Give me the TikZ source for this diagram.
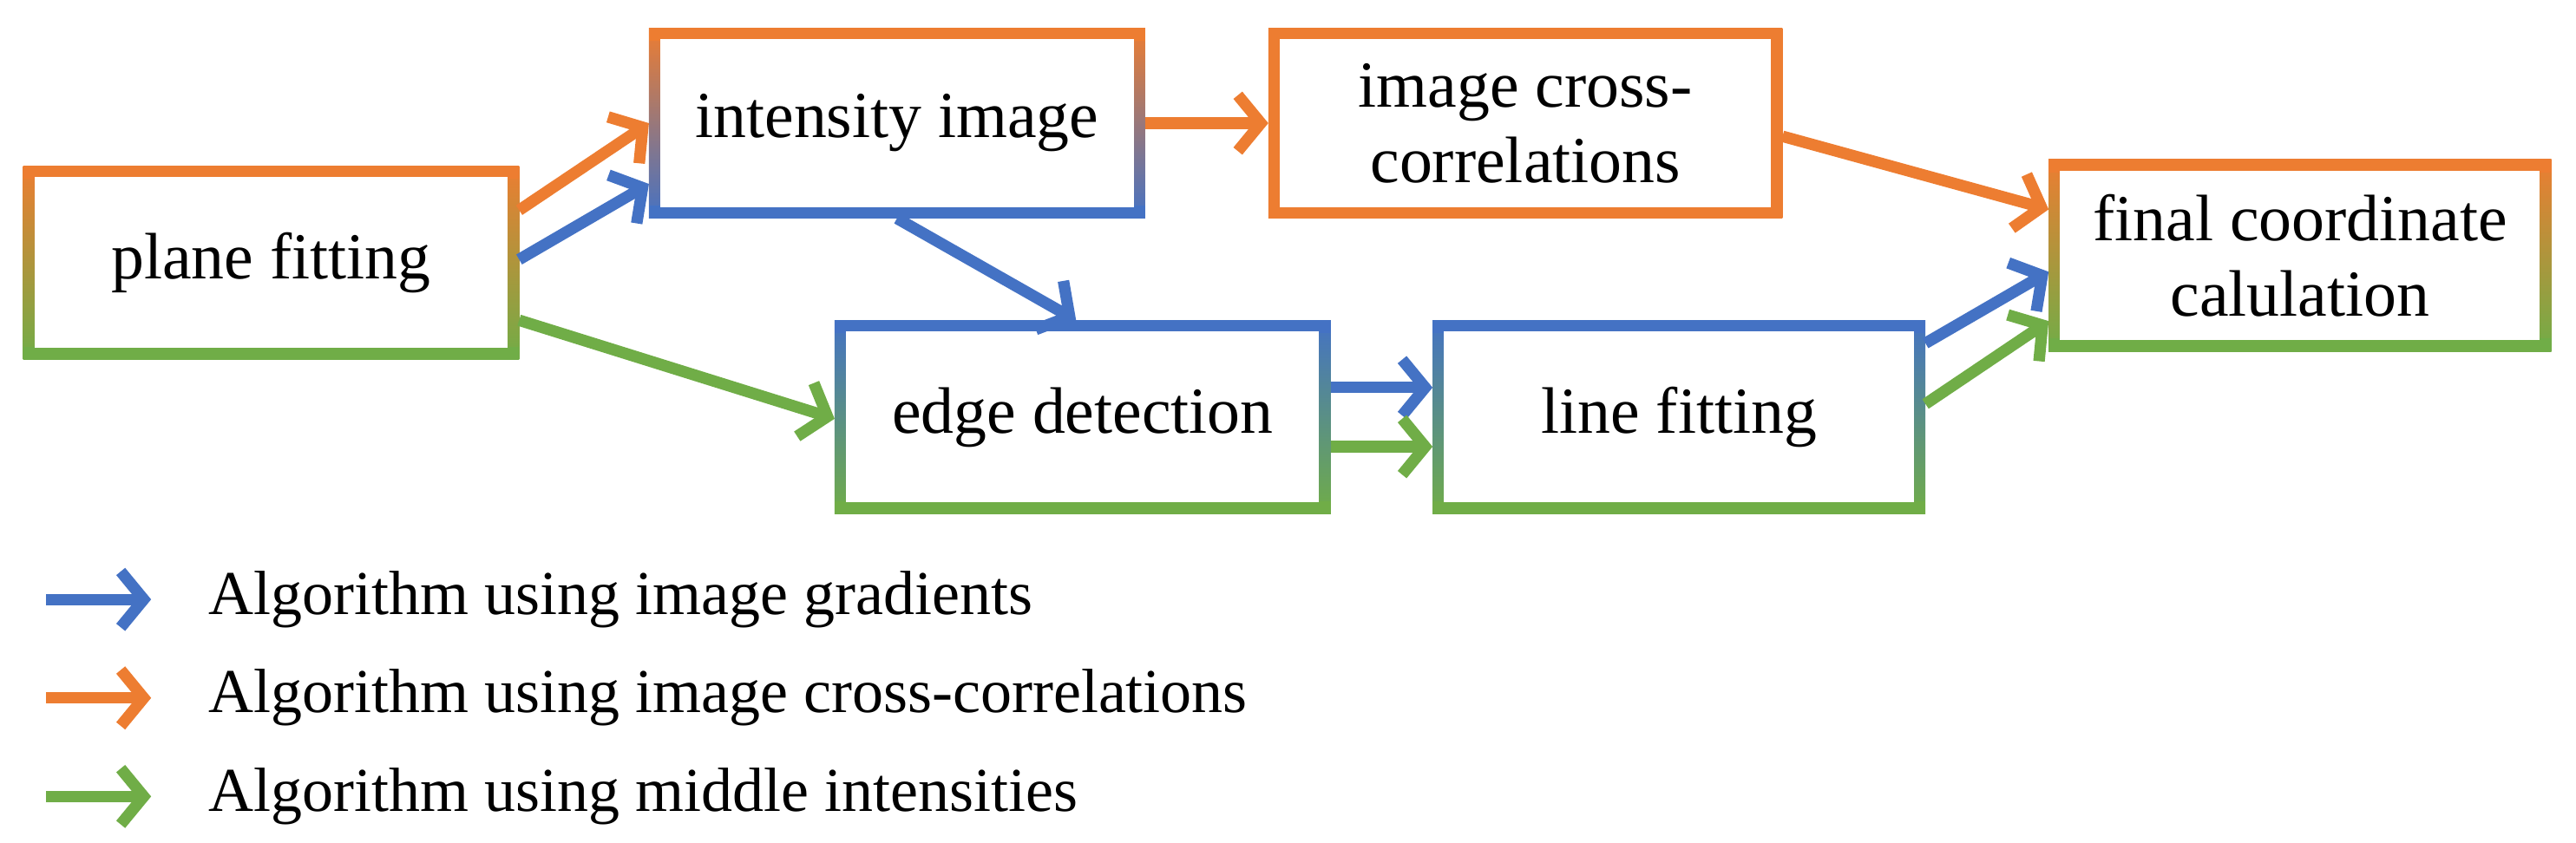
\documentclass[tikz,border=0pt]{standalone}
\usepackage{fontspec}
\setmainfont{Liberation Serif}
\usetikzlibrary{arrows.meta,calc}
\definecolor{cO}{HTML}{ED7D31}
\definecolor{cB}{HTML}{4472C4}
\definecolor{cG}{HTML}{70AD47}
\newcommand\gbox[9]{%
  \shade[top color=#6,middle color=#7,bottom color=#8] (#2,-#3) rectangle (#4,-#5);
  \fill[#6] (#2,-#3) rectangle (#4,-#3-8);
  \fill[#8] (#2,-#5+8) rectangle (#4,-#5);
  \fill[white] (#2+7,-#3-7) rectangle (#4-7,-#5+7);
  \node[lbl,minimum width={(#4-#2)*1pt},minimum height={(#5-#3)*1pt}] (#1) at ({(#2+#4)/2},{-(#3+#5)/2}) {#9};}
\begin{document}
\begin{tikzpicture}[x=1pt,y=1pt,
  lbl/.style={align=center,inner sep=0pt,outer sep=0pt,font=\fontsize{40}{46}\selectfont},
  ar/.style={line width=7pt,-{Straight Barb[length=14pt,width=34pt,line width=7pt]},#1},
  leg/.style={anchor=west,inner sep=0pt,font=\fontsize{38}{40}\selectfont}]
\useasboundingbox (0,0) rectangle (1568,-513);
\gbox{plane}{14}{101}{316}{219}{cO}{cB}{cG}{plane fitting}
\gbox{inten}{395}{17}{697}{133}{cO}{cO!50!cB}{cB}{intensity image}
\gbox{cross}{772}{17}{1085}{133}{cO}{cO}{cO}{image cross-\\correlations}
\gbox{edge}{508}{195}{810}{313}{cB}{cB!50!cG}{cG}{edge detection}
\gbox{line}{872}{195}{1172}{313}{cB}{cB!50!cG}{cG}{line fitting}
\gbox{final}{1247}{97}{1553}{214}{cO}{cB}{cG}{final coordinate\\calulation}
\draw[ar=cO] ([yshift=32pt]plane.east) -- ([yshift=0pt]inten.west);
\draw[ar=cB] ([yshift=2pt]plane.east) -- ([yshift=-37pt]inten.west);
\draw[ar=cG] ([yshift=-35pt]plane.east) -- ([yshift=-1pt]edge.west);
\draw[ar=cO] (inten.east) -- (cross.west);
\draw[ar=cB] ([xshift=0pt]inten.south) -- ([xshift=-4pt]edge.north);
\draw[ar=cO] ([yshift=-8pt]cross.east) -- ([yshift=28pt]final.west);
\draw[ar=cB] ([yshift=18pt]edge.east) -- ([yshift=18pt]line.west);
\draw[ar=cG] ([yshift=-18pt]edge.east) -- ([yshift=-18pt]line.west);
\draw[ar=cB] ([yshift=45pt]line.east) -- ([yshift=-10pt]final.west);
\draw[ar=cG] ([yshift=8pt]line.east) -- ([yshift=-40pt]final.west);
\coordinate (l1a) at (28,-365); \coordinate (l1b) at (92,-365);
\coordinate (l2a) at (28,-425); \coordinate (l2b) at (92,-425);
\coordinate (l3a) at (28,-485); \coordinate (l3b) at (92,-485);
\draw[ar=cB] (l1a) -- (l1b);
\draw[ar=cO] (l2a) -- (l2b);
\draw[ar=cG] (l3a) -- (l3b);
\node[leg] (t1) at (127,-365) {Algorithm using image gradients};
\node[leg] (t2) at (127,-425) {Algorithm using image cross-correlations};
\node[leg] (t3) at (127,-485) {Algorithm using middle intensities};
\end{tikzpicture}
\end{document}
